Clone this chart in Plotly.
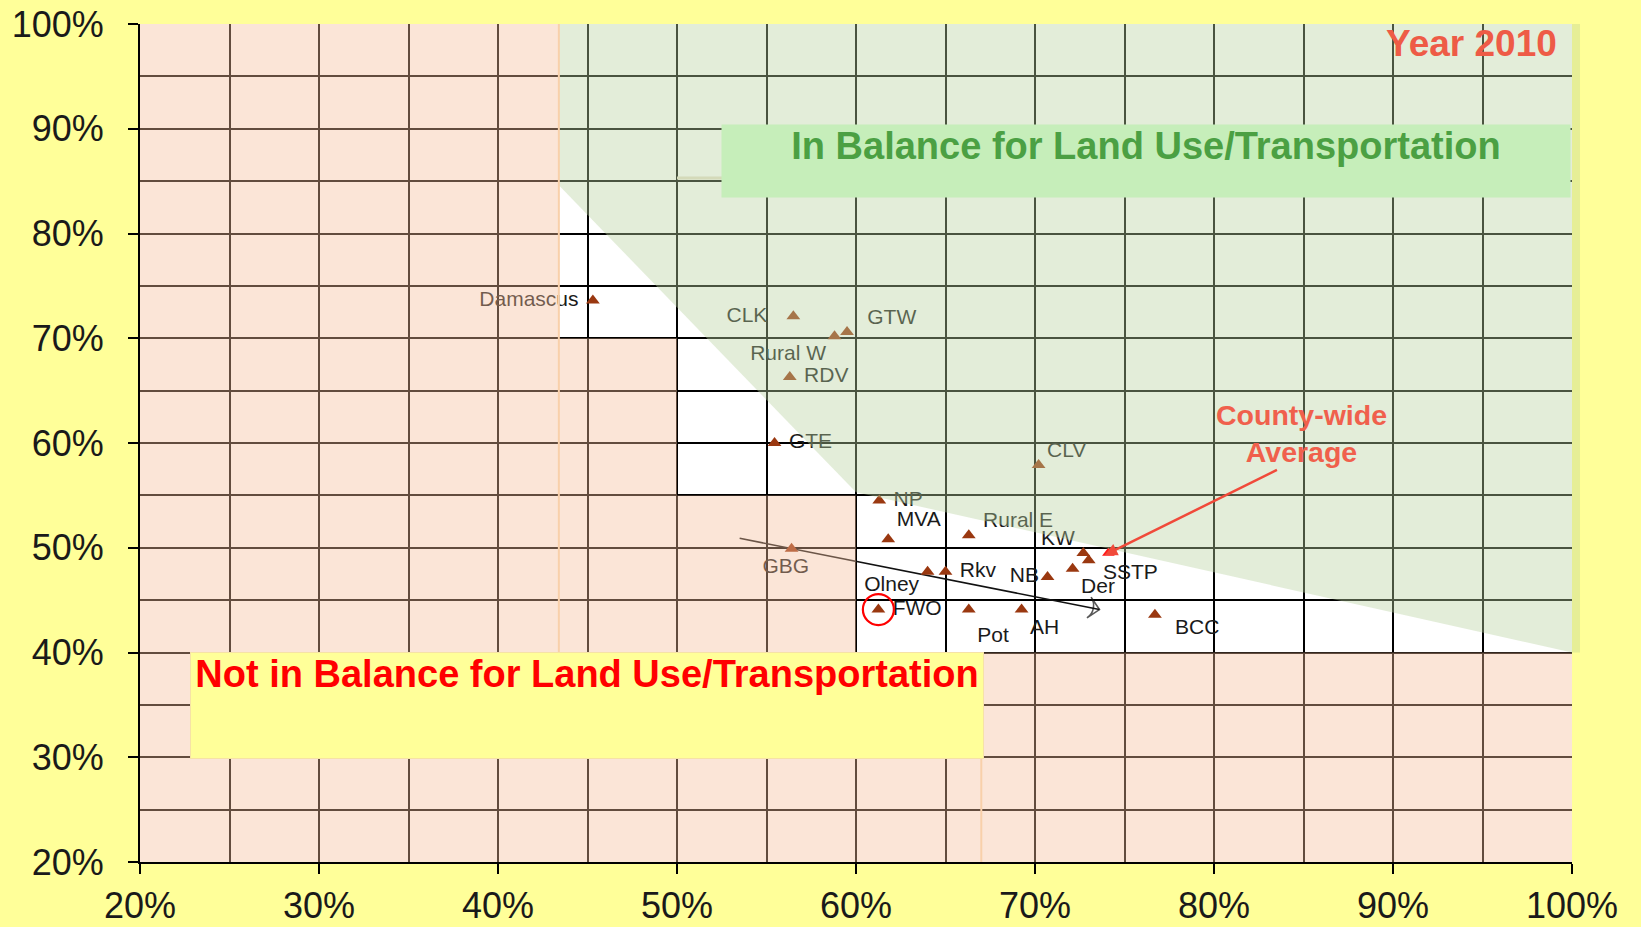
import plotly.graph_objects as go

NB = "\u00a0"

# ---------------- data (values in percent) ----------------
areas = ["Damascus", "CLK", "GTW", "Rural W", "RDV", "GTE", "CLV", "NP", "MVA",
         "Rural E", "GBG", "Olney", "Rkv", "NB", "Der", "KW", "SSTP", "FWO",
         "Pot", "AH", "BCC"]
x_pct = [45.3, 56.5, 59.5, 58.8, 56.3, 55.45, 70.2, 61.3, 61.8,
         66.3, 56.4, 64.0, 65.0, 70.7, 72.1, 72.7, 73.0, 61.25,
         66.3, 69.25, 76.7]
y_pct = [73.6, 72.1, 70.6, 70.2, 66.3, 60.0, 57.9, 54.5, 50.8,
         51.2, 49.9, 47.7, 47.7, 47.2, 48.0, 49.5, 48.8, 44.1,
         44.1, 44.1, 43.6]
label_pos = ["middle left", "middle left", "middle right", "bottom left", "middle right",
             "middle right", "middle right", "middle right", "top right",
             "middle right", "bottom center", "middle left", "middle right", "middle left",
             "bottom right", "middle left", "middle right", "middle right",
             "middle right", "bottom right", "middle right"]
# nudges: (leading nbsp, trailing nbsp, line shift: +1 up / -1 down / -2 further down)
label_pad = [(0, 1, 0), (0, 3, 0), (2, 0, 1), (0, 0, 0), (1, 0, 0),
             (1, 0, 0), (0, 0, 1), (1, 0, 0), (0, 0, 0),
             (1, 0, 1), (0, 2, 0), (0, 0, -1), (1, 0, 0), (0, 0, 0),
             (0, 0, 0), (0, 0, 1), (1, 0, -1), (1, 0, 0),
             (0, 0, -2), (0, 0, 0), (2, 0, -1)]

county_avg_x = [74.1]
county_avg_y = [49.5]
county_arrow_tail = [83.6, 57.5]

highlight_x = [61.25]     # FWO circled
highlight_y = [44.1]

trend_x = [53.5, 73.6]
trend_y = [50.9, 44.1]

# zones
peach_x = [20, 100, 100, 60, 60, 50, 50, 43.4, 43.4, 20]
peach_y = [20, 20, 40, 40, 55, 55, 70, 70, 100, 100]
green_x = [43.4, 100, 100, 60, 43.4]
green_y = [100, 100, 40, 55.3, 84.6]

tick_vals = [20, 30, 40, 50, 60, 70, 80, 90, 100]
tick_text = [f"{v}%" for v in tick_vals]

FONT = "Arial, Liberation Sans, sans-serif"


def poly_path(xs, ys):
    return "M " + " L ".join(f"{a},{b}" for a, b in zip(xs, ys)) + " Z"


def make_label(name, pad):
    lead, trail, shift = pad
    t = NB * lead + name + NB * trail
    if shift > 0:
        t = t + "<br>" + NB
    elif shift == -1:
        t = NB + "<br>" + t
    elif shift == -2:
        t = NB + "<br>" + NB + "<br>" + t
    return t


labels = [make_label(n, p) for n, p in zip(areas, label_pad)]

fig = go.Figure()

# trend arrow (under overlays)
fig.add_trace(go.Scatter(
    x=trend_x, y=trend_y, mode="lines+markers",
    line=dict(color="#111111", width=1.6),
    marker=dict(symbol=["circle", "arrow-wide-open"], size=[0, 15],
                angleref="previous", color="#111111",
                line=dict(color="#111111", width=1.6)),
    hoverinfo="skip"))

# area points
fig.add_trace(go.Scatter(
    x=x_pct, y=y_pct, mode="markers+text", text=labels,
    textposition=label_pos,
    textfont=dict(family=FONT, size=21, color="#1a1a1a"),
    marker=dict(symbol="triangle-up", size=12, color="#9A3810"),
    hoverinfo="skip"))

# county-wide average
fig.add_trace(go.Scatter(
    x=county_avg_x, y=county_avg_y, mode="markers",
    marker=dict(symbol="triangle-up", size=11, color="#FF1A1A")))

# highlight circle
fig.add_trace(go.Scatter(
    x=highlight_x, y=highlight_y, mode="markers",
    marker=dict(symbol="circle-open", size=31, color="#FF0000",
                line=dict(width=2.2, color="#FF0000"))))

shapes = [
    dict(type="path", path=poly_path(peach_x, peach_y), xref="x", yref="y",
         fillcolor="rgb(245,190,155)", opacity=0.4, line=dict(width=0), layer="above"),
    dict(type="path", path=poly_path(green_x, green_y), xref="x", yref="y",
         fillcolor="rgb(185,210,160)", opacity=0.4, line=dict(width=0), layer="above"),
    # faint residual outlines seen in the original
    dict(type="line", xref="x", yref="y", x0=peach_x[7], x1=peach_x[8], y0=40, y1=100,
         line=dict(color="rgb(248,208,170)", width=2), layer="above"),
    dict(type="line", xref="x", yref="y", x0=67, x1=67, y0=20, y1=40,
         line=dict(color="rgb(248,208,170)", width=2), layer="above"),
    dict(type="line", xref="x", yref="y", x0=50, x1=60, y0=85.3, y1=85.3,
         line=dict(color="rgb(212,218,185)", width=3), layer="above"),
    # green spill outside right edge
    dict(type="rect", xref="paper", yref="paper", x0=1.0, x1=1.0056,
         y0=(green_y[2] - 20) / 80, y1=1.0,
         fillcolor="rgb(230,238,150)", line=dict(width=0), layer="above"),
]

annotations = [
    dict(x=76.2, y=86.9, xref="x", yref="y", showarrow=False,
         text="<b>In Balance for Land Use/Transportation</b>",
         font=dict(family=FONT, size=38, color="#4BA043"),
         bgcolor="#C6EEBA", width=848, height=72, valign="top", align="center",
         borderpad=0, xanchor="center", yanchor="middle"),
    dict(x=44.97, y=34.9, xref="x", yref="y", showarrow=False,
         text="<b>Not in Balance for Land Use/Transportation</b>",
         font=dict(family=FONT, size=38, color="#FF0000"),
         bgcolor="#FFFF99", bordercolor="#F6E2A6", borderwidth=1,
         width=792, height=105, valign="top", align="center",
         borderpad=0, xanchor="center", yanchor="middle"),
    dict(x=99.3, y=98.1, xref="x", yref="y", showarrow=False,
         text="<b>Year 2010</b>", xanchor="right", yanchor="middle",
         font=dict(family=FONT, size=37, color="#EE5B46")),
    dict(x=84.9, y=60.9, xref="x", yref="y", showarrow=False,
         text="<b>County-wide<br>Average</b>", xanchor="center", yanchor="middle",
         font=dict(family=FONT, size=28.5, color="#F0604C")),
    dict(x=73.9, y=49.3, xref="x", yref="y", ax=county_arrow_tail[0], ay=county_arrow_tail[1],
         axref="x", ayref="y", text="", showarrow=True, arrowhead=2, arrowsize=1,
         arrowwidth=2.5, arrowcolor="#F04A3A", standoff=0),
]

axis_common = dict(
    range=[20, 100], tickmode="array", tickvals=tick_vals, ticktext=tick_text,
    showline=True, linecolor="#000000", linewidth=2,
    ticks="outside", ticklen=10, tickwidth=2, tickcolor="#000000",
    showgrid=True, gridcolor="#000000", gridwidth=2,
    minor=dict(dtick=5, tick0=0, showgrid=True, gridcolor="#000000", gridwidth=2, ticks=""),
    zeroline=False, fixedrange=True, automargin=False,
    tickfont=dict(family=FONT, size=36, color="#1a1a1a"),
)

fig.update_layout(
    width=1641, height=927,
    margin=dict(l=140, r=69, t=24, b=65, autoexpand=False),
    paper_bgcolor="#FFFF99", plot_bgcolor="#FFFFFF",
    showlegend=False,
    xaxis=dict(**axis_common, ticklabelstandoff=1),
    yaxis=dict(**axis_common, ticklabelstandoff=17),
    shapes=shapes, annotations=annotations,
)

fig.write_html(
    "out.html",
    config={"displayModeBar": False},
    post_script="document.body.style.margin='0px';document.body.style.overflow='hidden';",
)
